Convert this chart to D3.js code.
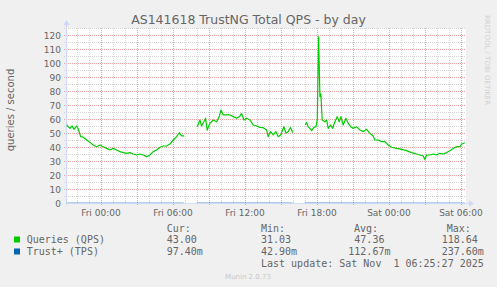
<!DOCTYPE html>
<html lang="en">
<head>
	<meta charset="UTF-8">
	<title>AS141618 TrustNG Total QPS - by day</title>
	<style>
		html, body {width: 100%; height: 100%; padding: 0; margin: 0; background: #F0F0F0;}
		text {font-family: "DejaVu Sans", sans-serif; fill: #666666;}
		.mono {font-family: "DejaVu Sans Mono", monospace; white-space: pre;}
	</style>
	<script src="https://d3js.org/d3.v7.min.js"></script>
</head>
<body>
<script>
// hours since Fri 00:00, null marks a gap in the data
var qpsHours = [-2.86, -2.58, -2.39, -2.25, -2.03, -1.89, -1.69, -1.48, -1.19, -0.92, -0.64, -0.36, -0.08,
	0.19, 0.48, 0.75, 1.03, 1.31, 1.58, 1.86, 2.14, 2.42, 2.69, 2.98, 3.25, 3.53, 3.81, 4.08, 4.36, 4.64, 4.92,
	5.19, 5.48, 5.75, 6.03, 6.31, 6.53, 6.72, 6.94, 7.5,
	8.03, 8.25, 8.39, 8.58, 8.72, 8.86, 9.08, 9.36, 9.64, 9.86, 10.0, 10.19, 10.48, 10.75, 11.03, 11.31, 11.58,
	11.72, 11.92, 12.14, 12.42, 12.69, 12.98, 13.25, 13.53, 13.81, 13.94, 14.14, 14.36, 14.58, 14.78, 14.98,
	15.25, 15.42, 15.61, 15.81, 15.98, 16.5,
	17.03, 17.14, 17.28, 17.56, 17.75, 17.92, 18.03, 18.14, 18.25, 18.33, 18.44, 18.67, 18.81, 18.94, 19.14,
	19.31, 19.5, 19.69, 19.86, 20.0, 20.19, 20.42, 20.61, 20.81, 21.03, 21.31, 21.58, 21.86, 22.14, 22.42,
	22.69, 22.83, 23.11, 23.39, 23.67, 23.94, 24.22, 24.64, 25.06, 25.47, 25.89, 26.31, 26.58, 26.86, 27.0,
	27.14, 27.42, 27.69, 27.97, 28.25, 28.53, 28.81, 29.08, 29.36, 29.64, 29.92, 30.06, 30.33];
var qpsValues = [55.7, 53.3, 55, 52.6, 55, 53, 47.4, 47, 45, 43.3, 41.4, 40.2, 41.4,
	40.2, 39, 37.9, 39, 37.9, 36.7, 36, 35.5, 36, 35, 34.3, 35, 34.3, 33.1, 34.3, 36.7, 37.9, 39.8,
	40.7, 40.7, 42.1, 45, 47.4, 50.2, 47.9, 47.9, null,
	54.5, 59.3, 55, 58, 60.5, 52.1, 56.9, 59.3, 58, 61.7, 66.4, 62.9, 62.9, 62.9, 61.7, 60.5, 62,
	64, 59.3, 60.5, 59.3, 55.7, 55, 54, 53.8, 52.1, 47.4, 51, 48.6, 51, 47.4, 48.6,
	54.5, 49.8, 51, 54, 50.2, null,
	55.7, 57.4, 54.5, 51.7, 54, 54.5, 59.3, 118.64, 75.9, 77.9, 59.3, 58, 59.3, 53.3, 55.7,
	53.3, 58, 61.7, 58, 61.7, 55.7, 60.5, 56.9, 54.5, 53.3, 54.5, 52.1, 51, 52.6, 49.8,
	47.9, 45, 45, 43.8, 43.8, 41.4, 39.8, 39, 38.3, 37.4, 36, 35, 34.3, 33.6, 31.03,
	34.3, 34.3, 35, 34.3, 35.5, 35, 36, 37.4, 39, 40.2, 40.2, 42.1, 43.0];
var tpsHours = [-2.9, 2.0, 6.9, 7.5, 8.0, 12.0, 15.98, 16.5, 17.0, 22.0, 27.0, 30.33];
var tpsValues = [0.12, 0.06, 0.1, null, 0.14, 0.16, 0.12, null, 0.2, 0.1, 0.05, 0.097];

var legendNames = ['Queries (QPS)', 'Trust+ (TPS)'];
var legendColors = ['#00CC00', '#0066B3'];
var legendCur = ['43.00', '97.40m'];
var legendMin = ['31.03', '42.90m'];
var legendAvg = [' 47.36', '112.67m'];
var legendMax = ['118.64', '237.60m'];
var yTicks = d3.range(0, 121, 10);
var lastUpdate = new Date(2025, 10, 1, 6, 25, 27);
var fri = new Date(2025, 9, 31, 0, 0, 0);
</script>

<script>
	var width = 497, height = 287;
	var plot = {left: 66, top: 28, width: 400, height: 175};

	var svg = d3.select('body').append('svg')
		.attr('width', width)
		.attr('height', height);

	svg.append('rect').attr('width', width).attr('height', height).attr('fill', '#F0F0F0');

	function toDate(h) { return new Date(fri.getTime() + h * 3600000); }

	// munin day graph: 400 points of 5 minutes ending at last update
	var start = new Date(lastUpdate.getTime() - 400 * 300000);
	var x = d3.scaleTime().domain([start, lastUpdate]).range([plot.left, plot.left + plot.width]);
	var y = d3.scaleLinear().domain([0, 125]).range([plot.top + plot.height, plot.top]);

	svg.append('rect')
		.attr('x', plot.left).attr('y', plot.top)
		.attr('width', plot.width).attr('height', plot.height)
		.attr('fill', '#FFFFFF');

	var grid = svg.append('g').attr('shape-rendering', 'crispEdges');
	var bottom = plot.top + plot.height;

	// horizontal grid, minor every 5, major every 10
	d3.range(5, 126, 5).forEach(function (v) {
		var major = v % 10 === 0;
		grid.append('line')
			.attr('x1', plot.left - 2).attr('x2', plot.left + plot.width)
			.attr('y1', Math.round(y(v)) + 0.5).attr('y2', Math.round(y(v)) + 0.5)
			.attr('stroke', major ? '#F2A0A0' : '#D4D4D4')
			.attr('stroke-dasharray', '1,1');
	});

	// vertical grid, minor every hour, major every 3 hours
	x.ticks(d3.timeHour.every(1)).forEach(function (t) {
		var major = t.getHours() % 3 === 0;
		var px = Math.round(x(t)) + 0.5;
		if (px < plot.left + 1) return;
		grid.append('line')
			.attr('x1', px).attr('x2', px)
			.attr('y1', plot.top).attr('y2', bottom + (major ? 2 : 0))
			.attr('stroke', major ? '#F2A0A0' : '#D4D4D4')
			.attr('stroke-dasharray', '1,1');
	});

	function series(hours, values) {
		return hours.map(function (h, i) { return {t: toDate(h), v: values[i]}; });
	}

	var line = d3.line()
		.defined(function (d) { return d.v !== null; })
		.x(function (d) { return x(d.t); })
		.y(function (d) { return y(d.v); });

	svg.append('path')
		.datum(series(tpsHours, tpsValues))
		.attr('fill', 'none')
		.attr('stroke', legendColors[1])
		.attr('stroke-opacity', 0.45)
		.attr('stroke-width', 1)
		.attr('d', line);

	// axes
	var axisColor = '#CFD6F8';
	svg.append('line')
		.attr('x1', plot.left).attr('x2', plot.left + plot.width + 3)
		.attr('y1', bottom + 0.5).attr('y2', bottom + 0.5)
		.attr('stroke', axisColor).attr('stroke-opacity', 0.8);
	svg.append('line')
		.attr('x1', plot.left + 0.5).attr('x2', plot.left + 0.5)
		.attr('y1', bottom + 2).attr('y2', plot.top - 3)
		.attr('stroke', axisColor);
	svg.append('path')
		.attr('d', 'M' + (plot.left + plot.width + 3) + ',' + (bottom - 2.5) + 'l5,3l-5,3z')
		.attr('fill', axisColor);
	svg.append('path')
		.attr('d', 'M' + (plot.left - 2.5) + ',' + (plot.top - 3) + 'l3,-5l3,5z')
		.attr('fill', axisColor);

	svg.append('path')
		.datum(series(qpsHours, qpsValues))
		.attr('fill', 'none')
		.attr('stroke', legendColors[0])
		.attr('stroke-width', 1.2)
		.attr('stroke-linejoin', 'round')
		.attr('d', line);

	// tick labels
	svg.append('g').selectAll('text')
		.data(yTicks)
		.enter().append('text')
		.attr('x', plot.left - 5)
		.attr('y', function (d) { return y(d) + 3.5; })
		.attr('text-anchor', 'end')
		.attr('font-size', 9)
		.text(function (d) { return d; });

	var fmt = d3.timeFormat('%a %H:%M');
	svg.append('g').selectAll('text')
		.data(x.ticks(d3.timeHour.every(6)))
		.enter().append('text')
		.attr('x', function (d) { return x(d); })
		.attr('y', bottom + 12.5)
		.attr('text-anchor', 'middle')
		.attr('font-size', 9)
		.text(function (d) { return fmt(d); });

	// titles
	svg.append('text')
		.attr('x', width / 2).attr('y', 24)
		.attr('text-anchor', 'middle')
		.attr('font-size', 12.5)
		.text('AS141618 TrustNG Total QPS - by day');

	svg.append('text')
		.attr('transform', 'translate(14,110) rotate(-90)')
		.attr('text-anchor', 'middle')
		.attr('font-size', 10)
		.text('queries / second');

	svg.append('text')
		.attr('transform', 'translate(485,15) rotate(90)')
		.attr('font-size', 7)
		.style('fill', '#D0D0D0')
		.text('RRDTOOL / TOBI OETIKER');

	// legend
	var legend = svg.append('g').attr('class', 'mono').attr('font-size', 10);
	var cols = [166.7, 261, 348.3, 441.7];
	var heads = [['Cur:', 166.7], ['Min:', 261], ['Avg:', 354], ['Max:', 446.7]];
	heads.forEach(function (h) {
		legend.append('text').attr('class', 'mono').attr('x', h[1]).attr('y', 231.5).text(h[0]);
	});
	legendNames.forEach(function (name, i) {
		var ly = 243 + i * 12;
		legend.append('rect')
			.attr('x', 14).attr('y', ly - 6.5).attr('width', 6).attr('height', 6)
			.attr('fill', legendColors[i]);
		legend.append('text').attr('class', 'mono').attr('x', 26.7).attr('y', ly).text(name);
		[legendCur[i], legendMin[i], legendAvg[i], legendMax[i]].forEach(function (s, j) {
			legend.append('text').attr('class', 'mono').attr('x', cols[j]).attr('y', ly).text(s);
		});
	});
	legend.append('text').attr('class', 'mono')
		.attr('x', 261).attr('y', 267)
		.text('Last update: Sat Nov  1 06:25:27 2025');

	svg.append('text')
		.attr('x', 248).attr('y', 279)
		.attr('text-anchor', 'middle')
		.attr('font-size', 7)
		.style('fill', '#C8C8C8')
		.text('Munin 2.0.73');
</script>
</body>
</html>
